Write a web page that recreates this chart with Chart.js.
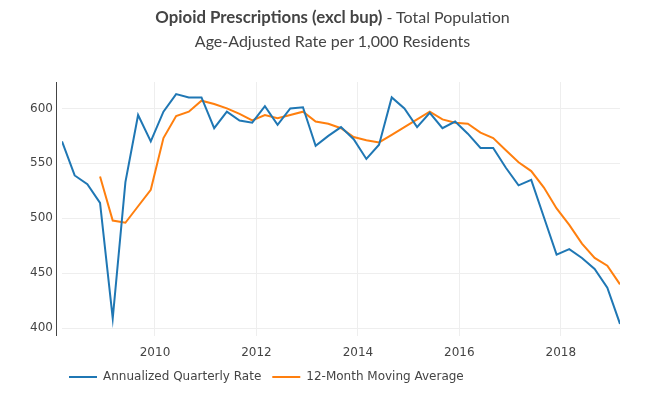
<!DOCTYPE html>
<html>
<head>
<meta charset="utf-8">
<script src="https://cdn.jsdelivr.net/npm/chart.js@4"></script>
<style>
  body { margin: 0; background: #fff; }
  #wrap { position: relative; width: 665px; height: 395px; }
  #title {
    position: absolute; left: 0; top: 5px; width: 665px;
    text-align: center; font-family: Lato, sans-serif; color: #444;
    font-size: 16px; line-height: 24px;
  }
  #title b { font-size: 16.8px; }
  canvas { position: absolute; left: 0; top: 0; }
</style>
</head>
<body>
<div id="wrap">
  <canvas id="opioid_chart" width="665" height="395"></canvas>
  <div id="title"><b>Opioid Prescriptions (excl bup)</b> - Total Population<br>Age-Adjusted Rate per 1,000 Residents</div>
</div>
<script>
// quarters (month of the last quarter month)
const quarters = [
  "2008-03", "2008-06", "2008-09", "2008-12",
  "2009-03", "2009-06", "2009-09", "2009-12",
  "2010-03", "2010-06", "2010-09", "2010-12",
  "2011-03", "2011-06", "2011-09", "2011-12",
  "2012-03", "2012-06", "2012-09", "2012-12",
  "2013-03", "2013-06", "2013-09", "2013-12",
  "2014-03", "2014-06", "2014-09", "2014-12",
  "2015-03", "2015-06", "2015-09", "2015-12",
  "2016-03", "2016-06", "2016-09", "2016-12",
  "2017-03", "2017-06", "2017-09", "2017-12",
  "2018-03", "2018-06", "2018-09", "2018-12",
  "2019-03"
];

const quarterlyRate = [
  570, 539, 531, 514, 409, 533, 594, 570,
  597, 613, 610, 610, 582, 597, 589, 587,
  602, 585, 600, 601, 566, 575, 583, 572,
  554, 567, 610, 600, 583, 596, 582, 588,
  577, 564, 564, 546, 530, 535, 501, 467,
  472, 464, 454, 437, 404
];

const movingAvg = [
  null, null, null, 538, 498, 496, 511, 526,
  573, 593, 597, 607, 604, 600, 595, 589,
  594, 591, 594, 597, 588, 586, 582, 574,
  571, 569, 576, 583, 590, 597, 590, 587,
  586, 578, 573, 562, 551, 543, 528, 509,
  494, 477, 464, 457, 440
];

const xTicks = [2010, 2012, 2014, 2016, 2018];
const yTicks = [400, 450, 500, 550, 600];

// "2008-03" -> decimal year
function toYear(q) {
  let parts = q.split("-");
  return parseInt(parts[0]) + (parseInt(parts[1]) - 1) / 12;
}

function toPoints(values) {
  return values.map((v, i) => ({ x: toYear(quarters[i]), y: v }));
}

// y axis line sits a few px left of the plot, legend starts near the left
const tweaks = {
  id: 'tweaks',
  afterLayout(chart) {
    chart.legend.left = 58;
  },
  afterDraw(chart) {
    let ctx = chart.ctx;
    let a = chart.chartArea;
    ctx.save();
    ctx.strokeStyle = '#444';
    ctx.lineWidth = 1;
    ctx.beginPath();
    ctx.moveTo(a.left - 5.5, a.top);
    ctx.lineTo(a.left - 5.5, a.bottom);
    ctx.stroke();
    ctx.restore();
  }
};

const tickFont = { family: 'DejaVu Sans', size: 12 };

new Chart(document.querySelector('#opioid_chart'), {
  type: 'line',
  data: {
    datasets: [{
      label: 'Annualized Quarterly Rate',
      data: toPoints(quarterlyRate),
      borderColor: '#1f77b4',
      backgroundColor: '#1f77b4',
      borderWidth: 2,
      pointRadius: 0,
      tension: 0
    }, {
      label: '12-Month Moving Average',
      data: toPoints(movingAvg),
      borderColor: '#ff7f0e',
      backgroundColor: '#ff7f0e',
      borderWidth: 2,
      pointRadius: 0,
      tension: 0
    }]
  },
  options: {
    responsive: false,
    animation: false,
    layout: { padding: { top: 82, right: 45, left: 0, bottom: 2 } },
    plugins: {
      title: { display: false },
      tooltip: { enabled: false },
      legend: {
        position: 'bottom',
        align: 'start',
        labels: {
          usePointStyle: true,
          pointStyle: 'line',
          pointStyleWidth: 28,
          padding: 11,
          color: '#444',
          font: { family: 'DejaVu Sans', size: 12 }
        }
      }
    },
    scales: {
      x: {
        type: 'linear',
        min: toYear(quarters[0]),
        max: toYear(quarters[quarters.length - 1]),
        afterBuildTicks: scale => { scale.ticks = xTicks.map(v => ({ value: v })); },
        afterFit: scale => { scale.height = 24; },
        grid: { color: '#eeeeee', drawTicks: false },
        border: { display: false },
        ticks: { color: '#444', font: tickFont, padding: 10, maxRotation: 0, callback: v => String(v) }
      },
      y: {
        min: 393,
        max: 624,
        afterBuildTicks: scale => { scale.ticks = yTicks.map(v => ({ value: v })); },
        afterFit: scale => { scale.width = 62; },
        grid: { color: '#eeeeee', drawTicks: false },
        border: { display: false },
        ticks: { color: '#444', font: tickFont, padding: 9 }
      }
    }
  },
  plugins: [tweaks]
});
</script>
</body>
</html>
